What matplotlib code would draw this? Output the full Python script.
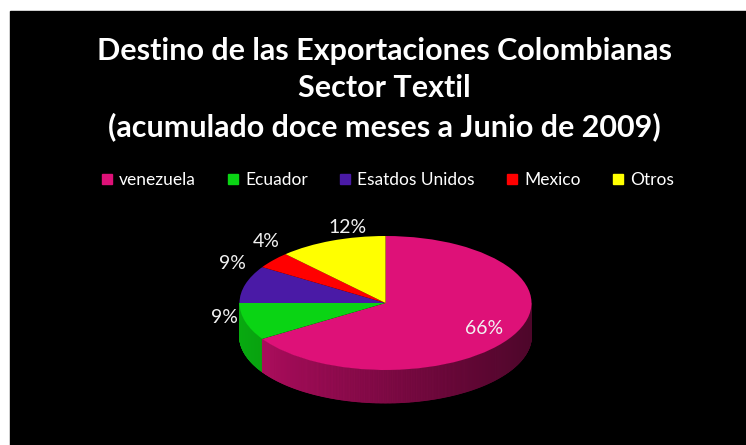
import numpy as np
import matplotlib.pyplot as plt
from matplotlib.patches import Rectangle
from matplotlib.lines import Line2D
from matplotlib.collections import PolyCollection
from matplotlib.colors import to_rgb

# data
paises = ["venezuela", "Ecuador", "Esatdos Unidos", "Mexico", "Otros"]
participacion = [66, 9, 9, 4, 12]
colores = ["#de1178", "#0ad414", "#4a1aa6", "#ff0000", "#ffff00"]

titulo = ("Destino de las Exportaciones Colombianas\n"
          "Sector Textil\n"
          "(acumulado doce meses a Junio de 2009)")

W, H = 746, 445
fig = plt.figure(figsize=(W / 100, H / 100), dpi=100, facecolor="white")
fig.patches.append(Rectangle((10 / W, 0), (W - 10) / W, (H - 11) / H,
                             transform=fig.transFigure, color="black", zorder=-1))

# pie axes: elliptical scale to fake the 3D tilt
cx, cy = 385.5, 303          # pixel centre (from top)
rx, ry = 146, 67             # pixel radii
ax = fig.add_axes([0, 0, 1, 1])
ax.set_facecolor("none")

# side wall of the front half, shaded left -> right
depth = 33 / ry
frac = np.cumsum([0] + participacion) / sum(participacion)
theta = np.linspace(np.pi, 2 * np.pi, 361)
polys, fc = [], []
for t1, t2 in zip(theta[:-1], theta[1:]):
    tm = 0.5 * (t1 + t2)
    pos = ((np.pi / 2 - tm) % (2 * np.pi)) / (2 * np.pi)
    i = min(np.searchsorted(frac, pos) - 1, len(participacion) - 1)
    shade = 0.8 - 0.45 * (np.cos(tm) + 1) / 2
    polys.append([(np.cos(t1), np.sin(t1)), (np.cos(t2), np.sin(t2)),
                  (np.cos(t2), np.sin(t2) - depth), (np.cos(t1), np.sin(t1) - depth)])
    fc.append(tuple(c * shade for c in to_rgb(colores[i])))
ax.add_collection(PolyCollection(polys, facecolors=fc, edgecolors=fc, linewidths=0.6, zorder=1))

wedges, _ = ax.pie(participacion, colors=colores, startangle=90, counterclock=False,
                   radius=1, wedgeprops=dict(linewidth=0, zorder=2))

# percentage labels
lab_f = [(0.77, 0.79), (1.15, 0.76), (1.09, 2.1), (1.06, 1.43), (0.7, 1.22)]
for w, v, (fx, fy) in zip(wedges, participacion, lab_f):
    m = np.deg2rad(0.5 * (w.theta1 + w.theta2))
    ax.text(fx * np.cos(m), fy * np.sin(m), f"{v}%", color="#f2f2f2", fontsize=14,
            family="Lato", ha="center", va="center", zorder=3)

ax.set_aspect("auto")
ax.set_xlim(-cx / rx, (W - cx) / rx)
ax.set_ylim(-(H - cy) / ry, cy / ry)
ax.axis("off")

fig.text(384.5 / W, 1 - 89 / H, titulo, color="white", fontsize=22, fontweight="bold",
         family="Lato", ha="center", va="center", linespacing=1.42)

handles = [Line2D([], [], marker="s", linestyle="none", markersize=7,
                  markerfacecolor=c, markeredgecolor=c) for c in colores]
fig.legend(handles, paises, loc="center", bbox_to_anchor=(387 / W, 1 - 180 / H), ncol=5,
           frameon=False, labelcolor="white", prop=dict(family="Lato", size=12.5),
           handlelength=0.8, handletextpad=0.3, columnspacing=1.75)

fig.savefig("out.png", dpi=100, facecolor="white")
